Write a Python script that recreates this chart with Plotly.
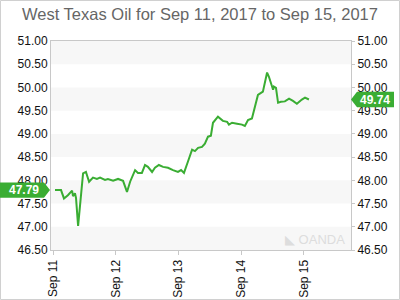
import plotly.graph_objects as go

times = [
    "2017-09-11 00:46", "2017-09-11 03:04", "2017-09-11 04:12", "2017-09-11 05:42",
    "2017-09-11 07:18", "2017-09-11 07:39", "2017-09-11 08:24", "2017-09-11 08:48",
    "2017-09-11 09:36", "2017-09-11 10:42", "2017-09-11 11:30", "2017-09-11 12:36",
    "2017-09-11 13:48", "2017-09-11 15:18", "2017-09-11 16:48", "2017-09-11 18:00",
    "2017-09-11 19:54", "2017-09-11 21:00", "2017-09-11 23:00", "2017-09-12 00:54",
    "2017-09-12 02:48", "2017-09-12 04:18", "2017-09-12 05:30", "2017-09-12 07:24",
    "2017-09-12 08:30", "2017-09-12 10:00", "2017-09-12 11:12", "2017-09-12 12:18",
    "2017-09-12 13:54", "2017-09-12 15:00", "2017-09-12 16:30", "2017-09-12 18:06",
    "2017-09-12 20:00", "2017-09-12 21:54", "2017-09-12 23:48", "2017-09-13 01:00",
    "2017-09-13 02:06", "2017-09-13 03:36", "2017-09-13 05:12", "2017-09-13 06:18",
    "2017-09-13 07:30", "2017-09-13 09:00", "2017-09-13 10:06", "2017-09-13 11:18",
    "2017-09-13 12:24", "2017-09-13 13:12", "2017-09-13 15:06", "2017-09-13 17:00",
    "2017-09-13 18:36", "2017-09-13 19:18", "2017-09-13 20:30", "2017-09-13 22:24",
    "2017-09-14 00:18", "2017-09-14 01:24", "2017-09-14 02:36", "2017-09-14 04:06",
    "2017-09-14 05:18", "2017-09-14 06:24", "2017-09-14 08:18", "2017-09-14 09:06",
    "2017-09-14 09:54", "2017-09-14 10:36", "2017-09-14 12:12", "2017-09-14 12:30",
    "2017-09-14 13:18", "2017-09-14 14:06", "2017-09-14 15:12", "2017-09-14 16:42",
    "2017-09-14 18:18", "2017-09-14 19:48", "2017-09-14 21:18", "2017-09-14 23:12",
    "2017-09-15 00:24", "2017-09-15 01:54",
]
prices = [
    47.79, 47.79, 47.61, 47.68, 47.78, 47.66, 47.72, 47.62,
    47.02, 47.60, 48.15, 48.18, 47.97, 48.06, 48.03, 48.06,
    48.01, 48.03, 47.99, 48.03, 47.99, 47.75, 47.97, 48.22,
    48.16, 48.16, 48.33, 48.29, 48.18, 48.27, 48.33, 48.29,
    48.27, 48.22, 48.18, 48.22, 48.16, 48.40, 48.66, 48.63,
    48.70, 48.72, 48.79, 48.94, 48.96, 49.24, 49.37, 49.28,
    49.26, 49.20, 49.24, 49.22, 49.20, 49.17, 49.30, 49.33,
    49.59, 49.84, 49.91, 50.10, 50.32, 50.23, 49.95, 50.02,
    49.99, 49.67, 49.69, 49.70, 49.76, 49.71, 49.65, 49.74,
    49.78, 49.74,
]
first_label = "47.79"
last_label = "49.74"
first_value = 47.79
last_value = 49.74
tick_days = ["2017-09-11", "2017-09-12", "2017-09-13", "2017-09-14", "2017-09-15"]
tick_text = ["Sep 11", "Sep 12", "Sep 13", "Sep 14", "Sep 15"]
y_ticks = [46.5, 47.0, 47.5, 48.0, 48.5, 49.0, 49.5, 50.0, 50.5, 51.0]
band_pairs = [(46.5, 47.0), (47.5, 48.0), (48.5, 49.0), (49.5, 50.0), (50.5, 51.0)]
x_range = ["2017-09-10 23:14", "2017-09-15 18:00"]
y_range = [46.5, 51.0]

GREEN = "#3aad33"
AXIS = "#c8c8c8"
FONT = "Liberation Sans, Arial, sans-serif"

W, H = 400, 300
ML, MR, MT, MB = 51, 49, 41, 50
PW = W - ML - MR

fig = go.Figure()
fig.add_trace(go.Scatter(x=times, y=prices, mode="lines",
                         line=dict(color=GREEN, width=2), hoverinfo="skip"))
fig.add_trace(go.Scatter(x=times, y=prices, mode="lines", yaxis="y2",
                         line=dict(color="rgba(0,0,0,0)", width=0), hoverinfo="skip"))

shapes = []
for lo, hi in band_pairs:
    shapes.append(dict(type="rect", xref="paper", yref="y", x0=0, x1=1, y0=lo, y1=hi,
                       fillcolor="#f7f7f7", line=dict(width=0), layer="below"))

# outer border
shapes.append(dict(type="rect", xref="paper", yref="paper",
                   x0=-ML / PW + 0.5 / PW, x1=1 + (MR - 0.5) / PW,
                   y0=-(MB - 0.5) / (H - MT - MB), y1=1 + (MT - 0.5) / (H - MT - MB),
                   line=dict(color="#d0d0d0", width=1), fillcolor="rgba(0,0,0,0)"))

annotations = []
# left tag
tri_l0 = -7 / PW
tri_l1 = -1 / PW
box_l0 = -ML / PW
h_half = 0.165
shapes.append(dict(type="path", xref="paper", yref="y",
                   path=f"M {box_l0} {first_value - h_half} L {tri_l0} {first_value - h_half} "
                        f"L {tri_l1} {first_value} L {tri_l0} {first_value + h_half} "
                        f"L {box_l0} {first_value + h_half} Z",
                   fillcolor=GREEN, line=dict(width=0)))
annotations.append(dict(xref="paper", yref="y", x=(box_l0 + tri_l0) / 2 + 2 / PW, y=first_value,
                        text=f"<b>{first_label}</b>", showarrow=False,
                        font=dict(color="white", size=12, family=FONT),
                        xanchor="center", yanchor="middle"))
# right tag
tri_r0 = 1
tri_r1 = 1 + 6 / PW
box_r1 = 1 + 43 / PW
shapes.append(dict(type="path", xref="paper", yref="y",
                   path=f"M {tri_r0} {last_value} L {tri_r1} {last_value - h_half} "
                        f"L {box_r1} {last_value - h_half} L {box_r1} {last_value + h_half} "
                        f"L {tri_r1} {last_value + h_half} Z",
                   fillcolor=GREEN, line=dict(width=0)))
annotations.append(dict(xref="paper", yref="y", x=(tri_r1 + box_r1) / 2, y=last_value,
                        text=f"<b>{last_label}</b>", showarrow=False,
                        font=dict(color="white", size=12, family=FONT),
                        xanchor="center", yanchor="middle"))
# watermark
annotations.append(dict(xref="paper", yref="paper", x=0.985, y=0.005,
                        text="◣ OANDA", showarrow=False,
                        font=dict(color="#dddddd", size=13, family=FONT),
                        xanchor="right", yanchor="bottom"))

fig.update_layout(
    width=W, height=H,
    margin=dict(l=ML, r=MR, t=MT, b=MB, autoexpand=False),
    paper_bgcolor="white", plot_bgcolor="white",
    showlegend=False,
    font=dict(family=FONT, size=12, color="#111111"),
    title=dict(text="West Texas Oil for Sep 11, 2017 to Sep 15, 2017",
               x=0.5, xanchor="center", y=1 - 14 / H, yanchor="middle",
               font=dict(family=FONT, size=16.5, color="#666666")),
    xaxis=dict(type="date", range=x_range, tickvals=tick_days, ticktext=tick_text,
               tickangle=-90, showgrid=False, zeroline=False, automargin=False,
               showline=True, linecolor=AXIS, linewidth=1, mirror=True,
               ticks="outside", ticklen=4, tickcolor=AXIS,
               tickfont=dict(size=12, color="#111111")),
    yaxis=dict(range=y_range, tickvals=y_ticks, tickformat=".2f", automargin=False,
               showgrid=False, zeroline=False, showline=True, linecolor=AXIS,
               linewidth=1, mirror=True, ticks="",
               tickfont=dict(size=12, color="#111111")),
    yaxis2=dict(range=y_range, tickvals=y_ticks, tickformat=".2f", overlaying="y",
                side="right", showgrid=False, zeroline=False, showline=False,
                automargin=False,
                ticks="outside", ticklen=3, tickcolor=AXIS,
                tickfont=dict(size=12, color="#111111")),
    shapes=shapes,
    annotations=annotations,
)

fig.write_html("out.html")
